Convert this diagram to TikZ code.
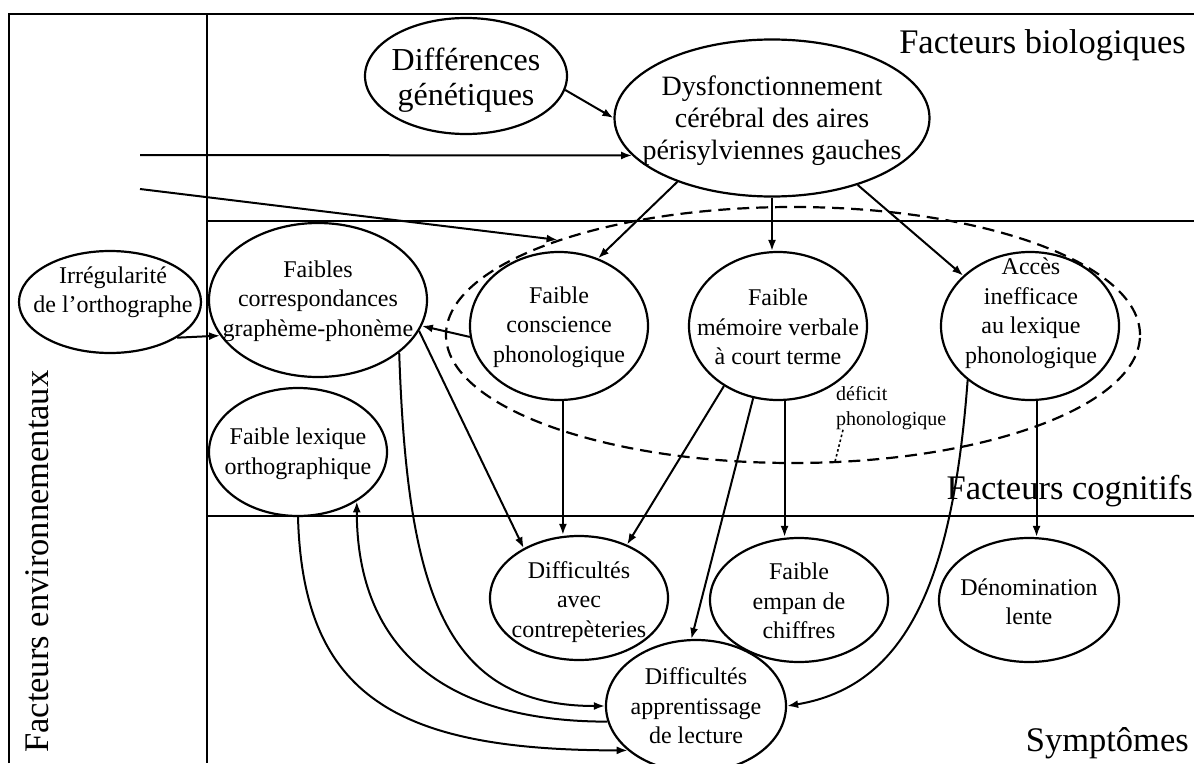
\documentclass[tikz,border=0pt]{standalone}
\usepackage{fontspec}
\setmainfont{Liberation Serif}
\usetikzlibrary{shapes.geometric,arrows.meta}
\begin{document}
\begin{tikzpicture}[x=1pt,y=-1pt,
  ell/.style={ellipse, draw, line width=2.2pt, inner sep=0pt},
  txt/.style={align=center, inner sep=0pt, font=\fontsize{24}{29.5}\selectfont},
  arr/.style={line width=2pt, -{Latex[length=11pt,width=8pt]}},
  frameline/.style={line width=2.4pt},
  region/.style={inner sep=0pt, font=\fontsize{34.5}{40}\selectfont},
  leader/.style={line width=1.6pt, dash pattern=on 2.5pt off 2.5pt},
  phondash/.style={ellipse, draw, line width=2.2pt, dash pattern=on 12pt off 7pt, inner sep=0pt}
]
\useasboundingbox (0,0) rectangle (1194,763);

% frame
\draw[frameline] (9,763) -- (9,14) -- (1194,14);
\draw[frameline] (207,14) -- (207,763);
\draw[frameline] (207,221) -- (1194,221);
\draw[frameline] (207,516) -- (1194,516);

% region labels
\node[region, anchor=base east] (rbio) at (1186,53) {Facteurs biologiques};
\node[region, anchor=base east] (rcog) at (1193,499) {Facteurs cognitifs};
\node[region, anchor=base east] (rsym) at (1189,751) {Symptômes};
\node[region, anchor=base west, rotate=90] (renv) at (48,753) {Facteurs environnementaux};

% ellipses
\node[ell, minimum width=202pt, minimum height=116pt] (dif) at (466,76) {};
\node[txt, font=\fontsize{32}{35}\selectfont] (dift) at (466,80) {Différences\\génétiques};

\node[ell, minimum width=315pt, minimum height=157pt] (dys) at (772,118) {};
\node[txt, font=\fontsize{28}{32}\selectfont] (dyst) at (772,121) {Dysfonctionnement\\cérébral des aires\\périsylviennes gauches};

\node[ell, minimum width=182pt, minimum height=102pt] (irr) at (110,302) {};
\node[txt] (irrt) at (113,292) {Irrégularité\\de l’orthographe};

\node[ell, minimum width=218pt, minimum height=154pt] (fgp) at (318,300) {};
\node[txt] (fgpt) at (318,301) {Faibles\\correspondances\\graphème-phonème};

\node[phondash, minimum width=694pt, minimum height=256pt] (phon) at (793,335) {};

\node[ell, minimum width=178pt, minimum height=148pt] (con) at (559,326) {};
\node[txt] (cont) at (559,327) {Faible\\conscience\\phonologique};

\node[ell, minimum width=178pt, minimum height=148pt] (mem) at (778,326) {};
\node[txt] (memt) at (778,327) {Faible\\mémoire verbale\\à court terme};

\node[ell, minimum width=178pt, minimum height=148pt] (acc) at (1030,326) {};
\node[txt] (acct) at (1031,313) {Accès\\inefficace\\au lexique\\phonologique};

\node[anchor=north west, align=left, inner sep=0pt, font=\fontsize{20}{25}\selectfont] (deft) at (836,386) {déficit\\phonologique};

\node[ell, minimum width=178pt, minimum height=128pt] (lex) at (298,452) {};
\node[txt] (lext) at (298,454) {Faible lexique\\orthographique};

\node[ell, minimum width=178pt, minimum height=124pt] (ctr) at (579,598) {};
\node[txt] (ctrt) at (579,602) {Difficultés\\avec\\contrepèteries};

\node[ell, minimum width=178pt, minimum height=124pt] (emp) at (799,600) {};
\node[txt] (empt) at (799,601) {Faible\\empan de\\chiffres};

\node[ell, minimum width=180pt, minimum height=124pt] (den) at (1029,600) {};
\node[txt] (dent) at (1029,602) {Dénomination\\lente};

\node[ell, minimum width=180pt, minimum height=132pt] (app) at (696,706) {};
\node[txt] (appt) at (696,706) {Difficultés\\apprentissage\\de lecture};

% connectors
\coordinate (e1) at (140,155);
\coordinate (e2) at (140,189);
\draw[arr] (dif.-8) -- (dys.west);
\draw[arr] (e1) -- (dys.195);
\draw[arr] (e2) -- (phon.158);
\draw[arr] (dys.214) -- (con.60);
\draw[arr] (dys.south) -- (dys.south |- mem.north);
\draw[arr] (dys.-38) -- (acc.143);
\draw[arr] (irr.-28) -- (fgp.200);
\draw[arr] (con.187) -- (fgp.-14);
\draw[arr] (con.-87) -- (con.-87 |- ctr.north);
\draw[arr] (fgp.-17) -- (ctr.138);
\draw[arr] (fgp.-33) .. controls +(8,240) and +(-160,0) .. (app.west);
\draw[arr] (app.190) .. controls +(-160,0) and +(0,150) .. (lex.-40);
\draw[arr] (lex.south) .. controls +(5,180) and +(-230,0) .. (app.213);
\draw[arr] (mem.228) -- (ctr.48);
\draw[arr] (mem.251) -- (app.94);
\draw[arr] (mem.-85) -- (mem.-85 |- emp.north);
\draw[arr] (acc.221) .. controls +(-15,200) and +(120,-20) .. (app.east);
\draw[arr] (acc.-85) -- (acc.-85 |- den.north);
\draw[leader] ([xshift=7pt]deft.south west) -- (phon.-72);
\end{tikzpicture}
\end{document}
